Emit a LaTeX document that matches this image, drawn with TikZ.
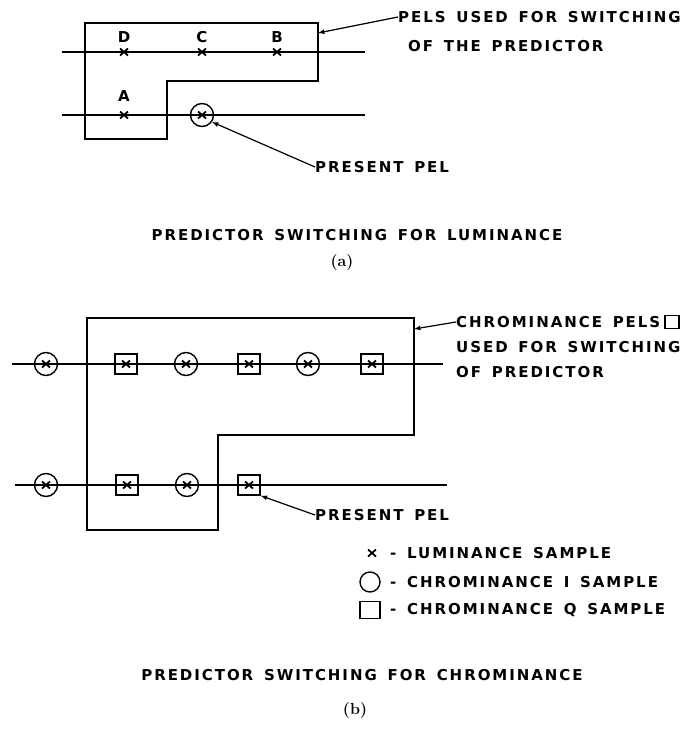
\documentclass[tikz,border=0pt]{standalone}
\usepackage{fontspec}
\newfontfamily\lettre{DejaVu Sans}[LetterSpace=13,WordSpace=1.5]
\usetikzlibrary{positioning}

\newcommand{\marquex}{%
\draw[line width=1.8pt]
([shift={(-4pt,-3.5pt)}]path picture bounding box.center)
--
([shift={(4pt,3.5pt)}]path picture bounding box.center)
([shift={(-4pt,3.5pt)}]path picture bounding box.center)
--
([shift={(4pt,-3.5pt)}]path picture bounding box.center);}

\tikzset{
trait/.style={line width=1.6pt},
fleche/.style={-latex, line width=1.2pt},
lettrage/.style={font=\lettre\bfseries\fontsize{15}{17}\selectfont, inner sep=0pt},
parenth/.style={font=\bfseries\fontsize{16}{18}\selectfont, inner sep=0pt},
echY/.style={inner sep=0pt, minimum width=9pt, minimum height=8pt, path picture={\marquex}},
echI/.style={circle, draw, line width=1.4pt, minimum size=23pt, inner sep=0pt, path picture={\marquex}},
echQ/.style={rectangle, draw, line width=1.4pt, minimum width=22pt, minimum height=20pt, inner sep=0pt, path picture={\marquex}},
legI/.style={circle, draw, line width=1.4pt, minimum size=20pt, inner sep=0pt},
legQ/.style={rectangle, draw, line width=1.4pt, minimum width=20pt, minimum height=17pt, inner sep=0pt},
petitQ/.style={rectangle, draw, line width=1.2pt, minimum width=14pt, minimum height=13pt, inner sep=0pt}
}

\begin{document}
\begin{tikzpicture}[x=1pt,y=-1pt]
\useasboundingbox (0,0) rectangle (694,737);

% (a) Luminance
\draw[trait]
(62,52)
--
(365,52);

\draw[trait]
(62,115)
--
(365,115);

% Cadre
\draw[trait]
(85,23)
--
(318,23)
--
(318,81)
--
(167,81)
--
(167,139)
--
(85,139)
--
cycle;

\node[echY] (D) at (124,52) {};
\node[echY] (C) at (202,52) {};
\node[echY] (B) at (277,52) {};
\node[echY] (A) at (124,115) {};
\node[echI] (pelA) at (202,115) {};

\node[lettrage, above=5pt of D] {D};
\node[lettrage, above=5pt of C] {C};
\node[lettrage, above=5pt of B] {B};
\node[lettrage, above=9pt of A] {A};

\node[lettrage, anchor=west]
(pelsA) at (398,17)
{PELS USED FOR SWITCHING};
\node[lettrage, anchor=west]
(predA) at (408,46)
{OF THE PREDICTOR};
\coordinate (bordA) at (318,33);
\draw[fleche]
(pelsA.west)
--
(bordA);

\node[lettrage, anchor=west]
(presA) at (315,167)
{PRESENT PEL};
\draw[fleche]
(presA.west)
--
(pelA.-35);

\node[lettrage] (titreA) at (357,235)
{PREDICTOR SWITCHING FOR LUMINANCE};
\node[parenth] (a) at (342,263) {(a)};

% (b) Chrominance
\draw[trait]
(12,364)
--
(443,364);

\draw[trait]
(15,485)
--
(447,485);

% Cadre
\draw[trait]
(87,318)
--
(414,318)
--
(414,435)
--
(218,435)
--
(218,530)
--
(87,530)
--
cycle;

\node[echI] (i1) at (46,364) {};
\node[echQ] (q1) at (126,364) {};
\node[echI] (i2) at (186,364) {};
\node[echQ] (q2) at (249,364) {};
\node[echI] (i3) at (308,364) {};
\node[echQ] (q3) at (372,364) {};

\node[echI] (i4) at (46,485) {};
\node[echQ] (q4) at (127,485) {};
\node[echI] (i5) at (187,485) {};
\node[echQ] (pelB) at (249,485) {};

\node[lettrage, anchor=west]
(chromB) at (456,322)
{CHROMINANCE PELS};
\node[petitQ, right=4pt of chromB] (carre) {};
\node[lettrage, anchor=west]
(usedB) at (456,347)
{USED FOR SWITCHING};
\node[lettrage, anchor=west]
(predB) at (456,372)
{OF PREDICTOR};
\coordinate (bordB) at (414,329);
\draw[fleche]
(chromB.west)
--
(bordB);

\node[lettrage, anchor=west]
(presB) at (315,515)
{PRESENT PEL};
\draw[fleche]
(presB.west)
--
(pelB.south east);

% Legende
\node[echY] (legY) at (372,553) {};
\node[lettrage, anchor=west] (txtY) at (390,553) {- LUMINANCE SAMPLE};
\node[legI] (legI) at (370,582) {};
\node[lettrage, anchor=west] (txtI) at (390,582) {- CHROMINANCE I SAMPLE};
\node[legQ] (legQ) at (370,610) {};
\node[lettrage, anchor=west] (txtQ) at (390,610) {- CHROMINANCE Q SAMPLE};

\node[lettrage] (titreB) at (362,675)
{PREDICTOR SWITCHING FOR CHROMINANCE};
\node[parenth] (b) at (355,710) {(b)};

\end{tikzpicture}
\end{document}
